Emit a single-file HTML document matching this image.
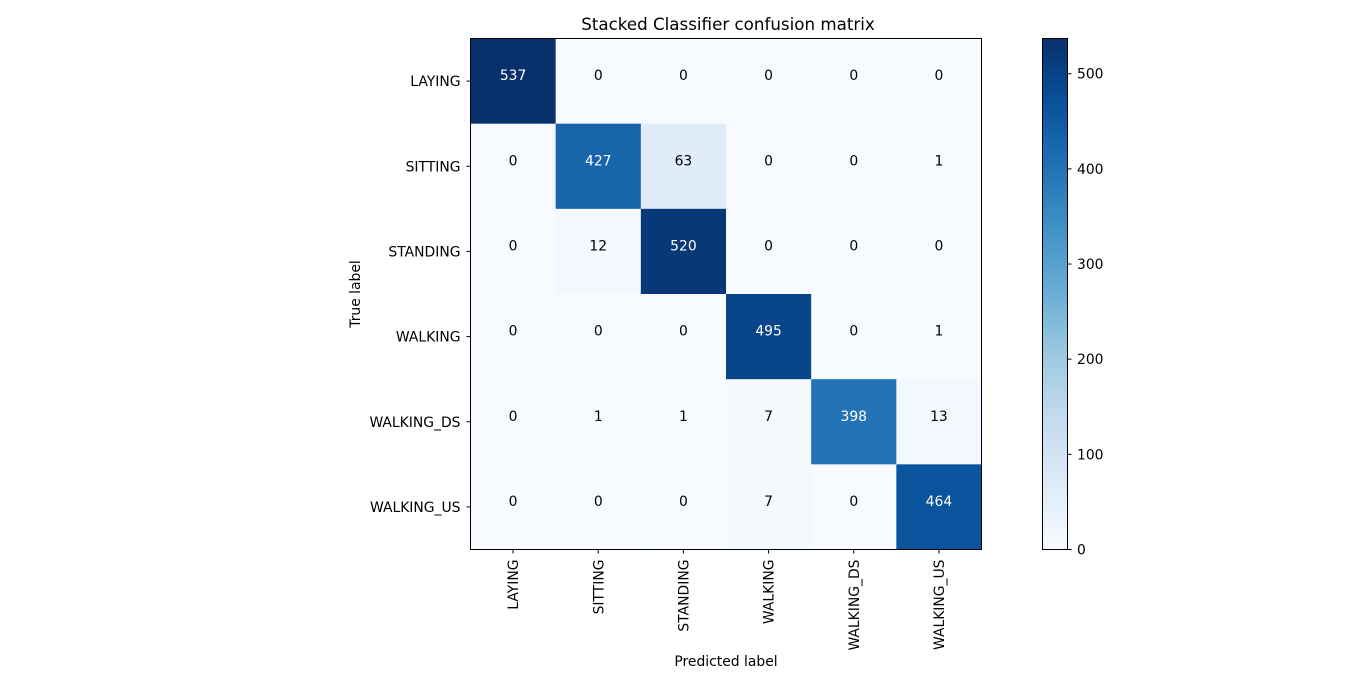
<!DOCTYPE html>
<html><head><meta charset="utf-8"><style>
body{margin:0;background:#fff;width:1362px;height:690px;overflow:hidden;font-family:"DejaVu Sans","Liberation Sans",sans-serif}
</style></head><body>
<svg id="chart" width="1362" height="690" xmlns="http://www.w3.org/2000/svg" font-family="DejaVu Sans, Liberation Sans, sans-serif">
<defs><linearGradient id="cbg" x1="0" y1="1" x2="0" y2="0">
<stop offset="0" stop-color="#f7fbff"/><stop offset="0.125" stop-color="#deebf7"/><stop offset="0.25" stop-color="#c6dbef"/><stop offset="0.375" stop-color="#9ecae1"/><stop offset="0.5" stop-color="#6baed6"/><stop offset="0.625" stop-color="#4292c6"/><stop offset="0.75" stop-color="#2171b5"/><stop offset="0.875" stop-color="#08519c"/><stop offset="1" stop-color="#08306b"/>
</linearGradient></defs>
<text x="728" y="30" font-size="16.7" text-anchor="middle">Stacked Classifier confusion matrix</text>
<g id="cells"></g>
<rect x="470.5" y="38.5" width="511" height="511" fill="none" stroke="#000" stroke-width="1"/>
<g id="axes"></g>
<text transform="translate(360,294) rotate(-90)" font-size="13.9" text-anchor="middle">True label</text>
<text x="726" y="666" font-size="13.9" text-anchor="middle">Predicted label</text>
<rect x="1042.5" y="38.5" width="25" height="511" fill="url(#cbg)" stroke="#000" stroke-width="1"/>
<g id="cbticks"></g>
</svg>
<script>
const classes=["LAYING","SITTING","STANDING","WALKING","WALKING_DS","WALKING_US"];
const row0=[537,0,0,0,0,0];
const row1=[0,427,63,0,0,1];
const row2=[0,12,520,0,0,0];
const row3=[0,0,0,495,0,1];
const row4=[0,1,1,7,398,13];
const row5=[0,0,0,7,0,464];
const matrix=[row0,row1,row2,row3,row4,row5];
const cbTicks=[0,100,200,300,400,500];
const NS="http://www.w3.org/2000/svg";
const X0=470.5,Y0=38.5,S=511,n=classes.length,cs=S/n;
const vmax=Math.max(...matrix.flat()),vmin=0;
const stops=["#f7fbff","#deebf7","#c6dbef","#9ecae1","#6baed6","#4292c6","#2171b5","#08519c","#08306b"].map(h=>[1,3,5].map(i=>parseInt(h.substr(i,2),16)));
function cmap(t){t=Math.max(0,Math.min(1,t));const p=t*8,i=Math.min(7,Math.floor(p)),f=p-i;const c=stops[i].map((v,k)=>Math.round(v+(stops[i+1][k]-v)*f));return `rgb(${c})`;}
function xc(j){return X0+(j+0.5)*cs;}
function yc(i){return Y0+(i+0.5)*cs;}
const cells=document.getElementById('cells'),axes=document.getElementById('axes'),cb=document.getElementById('cbticks');
function mk(tag,attrs,parent,txt){const e=document.createElementNS(NS,tag);for(const k in attrs)e.setAttribute(k,attrs[k]);if(txt!=null)e.textContent=txt;parent.appendChild(e);return e;}
matrix.forEach((row,i)=>row.forEach((v,j)=>{
const r=mk('rect',{x:X0+j*cs,y:Y0+i*cs,width:cs+0.5,height:cs+0.5,fill:cmap((v-vmin)/(vmax-vmin))},cells);


const t=mk('text',{x:xc(j),y:yc(i)-1,'font-size':13.9,'text-anchor':'middle',fill:v>vmax/2?'#fff':'#000'},cells,String(v));


}));
classes.forEach((c,i)=>{
mk('line',{x1:X0-4,x2:X0,y1:yc(i),y2:yc(i),stroke:'#000'},axes);
const ty=mk('text',{x:X0-10,y:yc(i)+5,'font-size':13.9,'text-anchor':'end'},axes,c);


mk('line',{x1:xc(i),x2:xc(i),y1:Y0+S,y2:Y0+S+4,stroke:'#000'},axes);
const tx=mk('text',{transform:`translate(${xc(i)+5},${Y0+S+10}) rotate(-90)`,'font-size':13.9,'text-anchor':'end'},axes,c);


});
cbTicks.forEach(v=>{
const y=Y0+S-(v-vmin)/(vmax-vmin)*S;
mk('line',{x1:1067.5,x2:1071.5,y1:y,y2:y,stroke:'#000'},cb);
const t=mk('text',{x:1077,y:y+5,'font-size':13.9},cb,String(v));


});
</script>
</body></html>
